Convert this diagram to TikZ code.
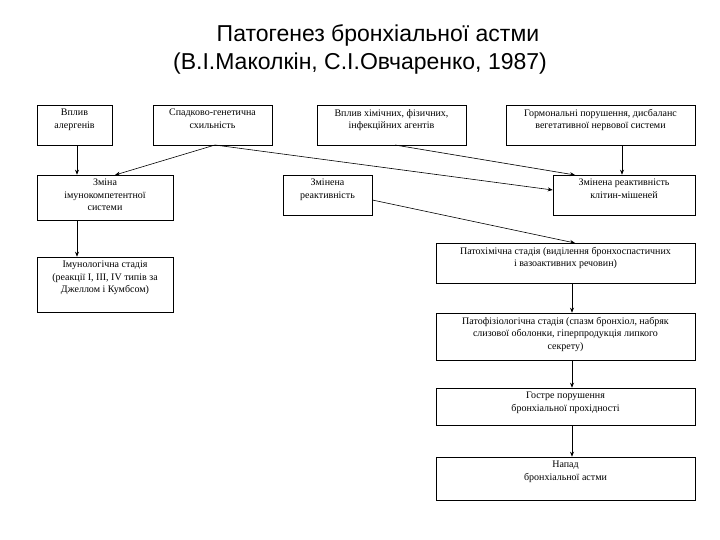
\documentclass[tikz,border=0pt]{standalone}
\usepackage{fontspec}
\setmainfont{Liberation Serif}
\newfontfamily\titlefont{Liberation Sans}
\usetikzlibrary{arrows.meta}
\begin{document}
\begin{tikzpicture}[x=1pt,y=-1pt,
  box/.style={draw,line width=0.6pt,inner sep=0pt},
  txt/.style={align=center,font=\fontsize{10}{12.5}\selectfont,inner sep=0pt,anchor=north},
  arr/.style={-{Stealth[length=5pt,width=4pt]},line width=0.6pt}]
\useasboundingbox (0,0) rectangle (720,540);
\node[font=\titlefont\fontsize{23}{28}\selectfont,align=center] (t) at (360,49) {\hspace*{36pt}Патогенез бронхіальної астми\\(В.І.Маколкін, С.І.Овчаренко, 1987)};
\newcommand\bx[6]{\node[box,minimum width=#4-#2,minimum height=#5-#3] (#1) at ({(#2+#4)/2},{(#3+#5)/2}) {};
  \node[txt] (#1t) at ({(#2+#4)/2},{#3+4}) {#6};}
\bx{b1}{37}{105}{112}{145}{Вплив\\алергенів}
\bx{b2}{153}{105}{272}{145}{Спадково-генетична\\схильність}
\bx{b3}{317}{105}{466}{145}{Вплив хімічних, фізичних,\\інфекційних агентів}
\bx{b4}{506}{105}{695}{145}{Гормональні порушення, дисбаланс\\вегетативної нервової системи}
\bx{b5}{37}{175}{173}{220}{Зміна\\імунокомпетентної\\системи}
\bx{b6}{283}{175}{372}{215}{Змінена\\реактивність}
\bx{b7}{553}{175}{695}{215}{Змінена реактивність\\клітин-мішеней}
\bx{b8}{37}{257}{173}{312}{Імунологічна стадія\\(реакції І, ІІІ, IV типів за\\Джеллом і Кумбсом)}
\bx{b9}{436}{243}{695}{283}{Патохімічна стадія (виділення бронхоспастичних\\і вазоактивних речовин)}
\bx{b10}{436}{313}{695}{360}{Патофізіологічна стадія (спазм бронхіол, набряк\\слизової оболонки, гіперпродукція липкого\\секрету)}
\bx{b11}{436}{388}{695}{425}{Гостре порушення\\бронхіальної прохідності}
\bx{b12}{436}{457}{695}{500}{Напад\\бронхіальної астми}
\coordinate (p2) at (215,145);
\coordinate (p3) at (395,145);
\draw[arr] (b1.south -| 77,0) -- (b5.north -| 77,0);
\draw[arr] (p2) -- (115,175);
\draw[arr] (p2) -- (b7.west |- 0,190);
\draw[arr] (p3) -- (575,175);
\draw[arr] (b4.south -| 622,0) -- (b7.north -| 622,0);
\draw[arr] (b6.east |- 0,200) -- (575,243);
\draw[arr] (b5.south -| 77,0) -- (b8.north -| 77,0);
\draw[arr] (b9.south -| 572,0) -- (b10.north -| 572,0);
\draw[arr] (b10.south -| 572,0) -- (b11.north -| 572,0);
\draw[arr] (b11.south -| 572,0) -- (b12.north -| 572,0);
\end{tikzpicture}
\end{document}
